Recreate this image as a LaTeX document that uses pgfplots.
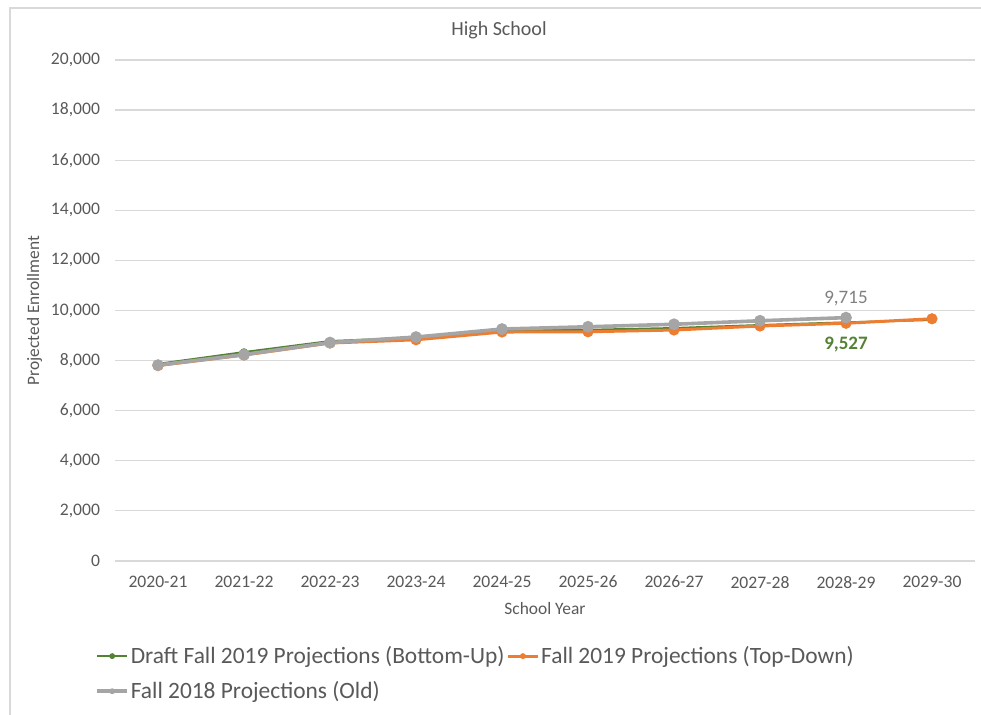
\documentclass[border=0pt]{standalone}
\usepackage{pgfplots}
\pgfplotsset{compat=1.18}
\usepackage{fontspec}
\setmainfont{Carlito}
\definecolor{cgreen}{HTML}{548235}
\definecolor{corange}{HTML}{ED7D31}
\definecolor{cgray}{HTML}{A5A5A5}
\definecolor{clab}{HTML}{7F7F7F}
\definecolor{ctext}{HTML}{595959}
\definecolor{cgrid}{HTML}{D9D9D9}
\begin{document}
\begin{tikzpicture}
\path[use as bounding box] (-57.5pt,-77pt) rectangle (433pt,280.5pt);
\draw[cgrid, line width=0.8pt] (-52.5pt,-77pt) -- (-52.5pt,276.5pt) -- (433pt,276.5pt);
\begin{axis}[
  at={(0,0)}, anchor=south west,
  scale only axis, width=430pt, height=250.5pt,
  xmin=-0.5, xmax=9.5, ymin=0, ymax=20000,
  clip=false,
  axis line style={draw=none},
  xtick={0,...,9},
  xticklabels={2020-21,2021-22,2022-23,2023-24,2024-25,2025-26,2026-27,2027-28,2028-29,2029-30},
  ytick={0,2000,...,20000},
  ymajorgrids, grid style={cgrid, line width=0.6pt},
  major tick length=0pt,
  /pgf/number format/assume math mode=true,
  /pgf/number format/1000 sep={,},
  scaled y ticks=false,
  tick label style={font=\fontsize{8.8}{10}\selectfont, text=ctext},
  yticklabel style={xshift=-4pt},
  xticklabel style={yshift=-4pt},
  xlabel={School Year}, ylabel={Projected Enrollment},
  label style={font=\fontsize{8.7}{10}\selectfont, text=ctext},
  xlabel style={yshift=0pt},
  ylabel style={yshift=-2.5pt},
  legend style={at={(-0.023,-0.165)}, anchor=north west, draw=none,
    font=\fontsize{11.7}{13}\selectfont, text=ctext, row sep=5.5pt,
    /tikz/every even column/.append style={column sep=0pt},
    inner sep=0pt, nodes={inner sep=1pt}},
  legend columns=2,
  legend cell align=left,
  legend image code/.code={
    \draw[#1, mark=none] (0cm,0cm) -- (0.52cm,0cm);
    \draw[#1, line width=0.5pt, mark size=1.2pt] plot coordinates {(0.26cm,0cm)};
  },
]
\addplot[cgreen, line width=1pt, mark=*, mark size=1.4pt, mark options={fill=cgreen}]
  coordinates {(0,7870) (1,8340) (2,8780) (3,8920) (4,9200) (5,9230) (6,9300) (7,9420) (8,9527) (9,9620)};
\addlegendentry{Draft Fall 2019 Projections (Bottom-Up)}
\addplot[corange, line width=1.5pt, mark=*, mark size=2pt, mark options={fill=corange}]
  coordinates {(0,7800) (1,8220) (2,8700) (3,8830) (4,9140) (5,9150) (6,9220) (7,9380) (8,9490) (9,9670)};
\addlegendentry{Fall 2019 Projections (Top-Down)}
\addplot[cgray, line width=1.8pt, mark=*, mark size=2pt, mark options={fill=cgray}]
  coordinates {(0,7820) (1,8240) (2,8720) (3,8940) (4,9260) (5,9350) (6,9450) (7,9590) (8,9715)};
\addlegendentry{Fall 2018 Projections (Old)}
\node[font=\fontsize{9.5}{10}\selectfont, text=clab] at (axis cs:8,9715) [yshift=9.5pt] {9,715};
\node[font=\bfseries\fontsize{9.5}{10}\selectfont, text=cgreen] at (axis cs:8,9527) [yshift=-11pt] {9,527};
\node[font=\fontsize{10}{11}\selectfont, text=ctext] at (axis description cs:0.4465,1.06) {High School};
\end{axis}
\end{tikzpicture}
\end{document}
